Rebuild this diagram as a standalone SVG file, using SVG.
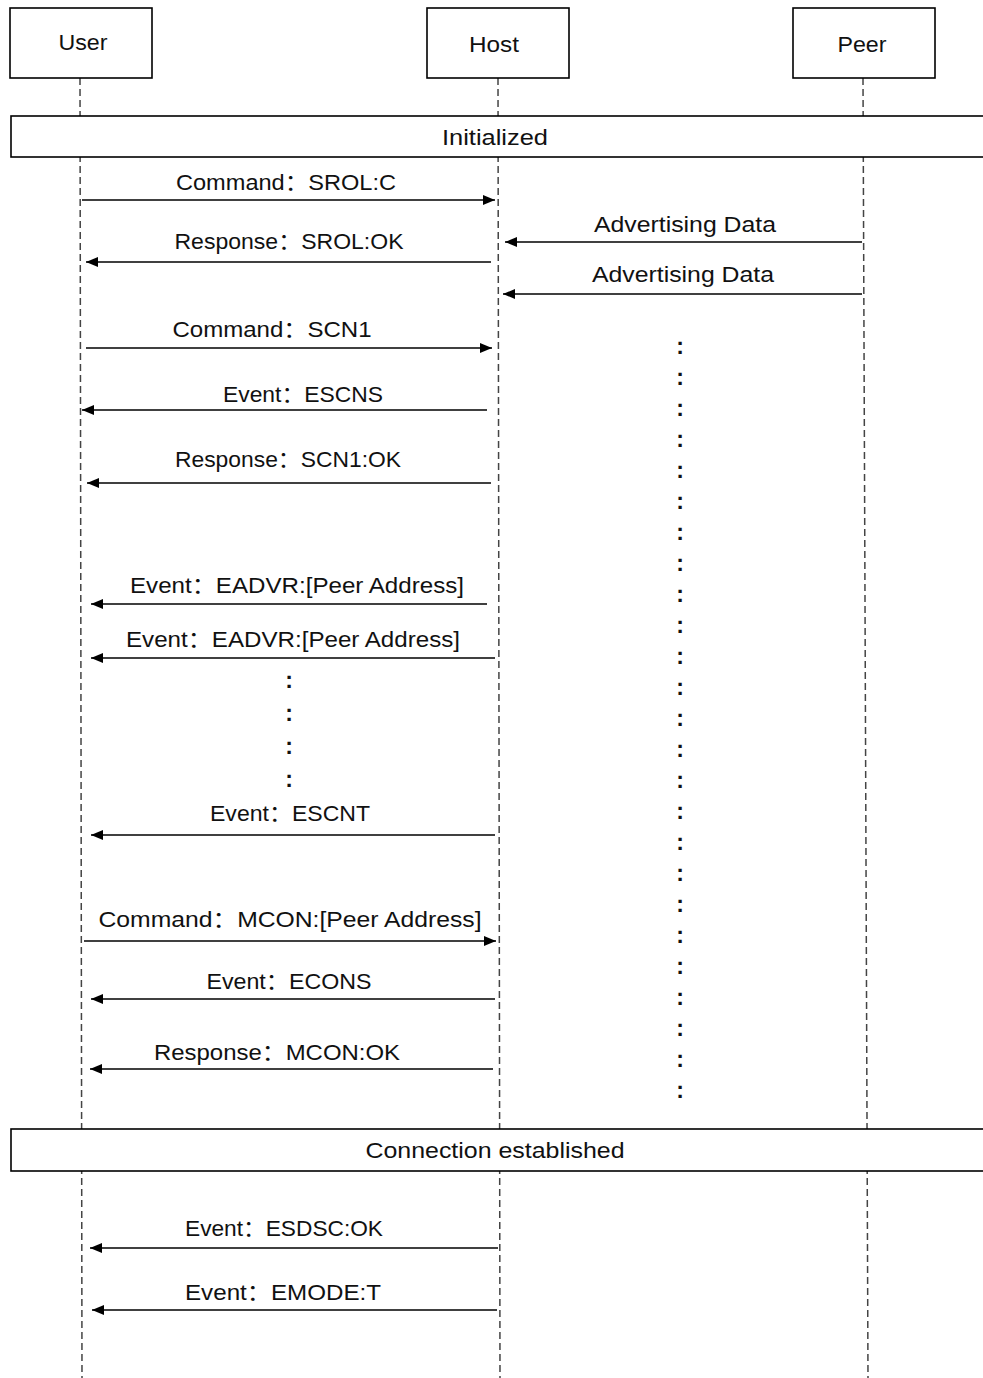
<svg xmlns="http://www.w3.org/2000/svg" width="983" height="1378" viewBox="0 0 983 1378">
<style>
.box{fill:#fff;stroke:#000;stroke-width:1.6}
.life{stroke:#444;stroke-width:1.5;stroke-dasharray:7 4;fill:none}
.msg{stroke:#000;stroke-width:1.6;fill:none}
text{font-family:"Liberation Sans","Noto Sans CJK SC",sans-serif;font-size:22px;fill:#111;text-anchor:middle}
.dots{font-size:23px;font-weight:bold}
</style>
<defs>
<marker id="ah" viewBox="0 0 12 10" refX="12" refY="5" markerWidth="12" markerHeight="10" markerUnits="userSpaceOnUse" orient="auto">
<path d="M0,0 L12,5 L0,10 z" fill="#000"/>
</marker>
</defs>
<rect width="983" height="1378" fill="#fff"/>
<g id="lifelines">
<line class="life" x1="80" y1="78" x2="82" y2="1378"/>
<line class="life" x1="498" y1="78" x2="500" y2="1378"/>
<line class="life" x1="863" y1="78" x2="868" y2="1378"/>
</g>
<g id="user"><rect class="box" x="10" y="8" width="142" height="70"/><text x="83" y="50" textLength="49" lengthAdjust="spacingAndGlyphs">User</text></g>
<g id="host"><rect class="box" x="427" y="8" width="142" height="70"/><text x="494" y="52" textLength="50" lengthAdjust="spacingAndGlyphs">Host</text></g>
<g id="peer"><rect class="box" x="793" y="8" width="142" height="70"/><text x="862" y="52" textLength="49" lengthAdjust="spacingAndGlyphs">Peer</text></g>
<g id="state-initialized"><rect class="box" x="11" y="116" width="985" height="41"/><text x="495" y="145" textLength="106" lengthAdjust="spacingAndGlyphs">Initialized</text></g>
<g id="state-connected"><rect class="box" x="11" y="1129" width="985" height="42"/><text x="495" y="1158" textLength="259" lengthAdjust="spacingAndGlyphs">Connection established</text></g>
<g id="connectors">
<line class="msg" x1="82" y1="200" x2="495" y2="200" marker-end="url(#ah)"/>
<line class="msg" x1="491" y1="262" x2="86" y2="262" marker-end="url(#ah)"/>
<line class="msg" x1="862" y1="242" x2="505" y2="242" marker-end="url(#ah)"/>
<line class="msg" x1="862" y1="294" x2="503" y2="294" marker-end="url(#ah)"/>
<line class="msg" x1="86" y1="348" x2="492" y2="348" marker-end="url(#ah)"/>
<line class="msg" x1="487" y1="410" x2="82" y2="410" marker-end="url(#ah)"/>
<line class="msg" x1="491" y1="483" x2="87" y2="483" marker-end="url(#ah)"/>
<line class="msg" x1="487" y1="604" x2="91" y2="604" marker-end="url(#ah)"/>
<line class="msg" x1="495" y1="658" x2="91" y2="658" marker-end="url(#ah)"/>
<line class="msg" x1="495" y1="835" x2="91" y2="835" marker-end="url(#ah)"/>
<line class="msg" x1="84" y1="941" x2="496" y2="941" marker-end="url(#ah)"/>
<line class="msg" x1="495" y1="999" x2="91" y2="999" marker-end="url(#ah)"/>
<line class="msg" x1="493" y1="1069" x2="90" y2="1069" marker-end="url(#ah)"/>
<line class="msg" x1="498" y1="1248" x2="90" y2="1248" marker-end="url(#ah)"/>
<line class="msg" x1="497" y1="1310" x2="92" y2="1310" marker-end="url(#ah)"/>
</g>
<g id="labels">
<text x="286" y="190" textLength="220" lengthAdjust="spacingAndGlyphs">Command：SROL:C</text>
<text x="289" y="249" textLength="229" lengthAdjust="spacingAndGlyphs">Response：SROL:OK</text>
<text x="685" y="232" textLength="182" lengthAdjust="spacingAndGlyphs">Advertising Data</text>
<text x="683" y="282" textLength="182" lengthAdjust="spacingAndGlyphs">Advertising Data</text>
<text x="272" y="337" textLength="199" lengthAdjust="spacingAndGlyphs">Command：SCN1</text>
<text x="303" y="402" textLength="160" lengthAdjust="spacingAndGlyphs">Event：ESCNS</text>
<text x="288" y="467" textLength="226" lengthAdjust="spacingAndGlyphs">Response：SCN1:OK</text>
<text x="297" y="593" textLength="334" lengthAdjust="spacingAndGlyphs">Event：EADVR:[Peer Address]</text>
<text x="293" y="647" textLength="334" lengthAdjust="spacingAndGlyphs">Event：EADVR:[Peer Address]</text>
<text x="290" y="821" textLength="160" lengthAdjust="spacingAndGlyphs">Event：ESCNT</text>
<text x="290" y="927" textLength="383" lengthAdjust="spacingAndGlyphs">Command：MCON:[Peer Address]</text>
<text x="289" y="989" textLength="165" lengthAdjust="spacingAndGlyphs">Event：ECONS</text>
<text x="277" y="1060" textLength="246" lengthAdjust="spacingAndGlyphs">Response：MCON:OK</text>
<text x="284" y="1236" textLength="198" lengthAdjust="spacingAndGlyphs">Event：ESDSC:OK</text>
<text x="283" y="1300" textLength="196" lengthAdjust="spacingAndGlyphs">Event：EMODE:T</text>
</g>
<g id="ellipsis-left">
<text class="dots" x="289" y="688">:</text>
<text class="dots" x="289" y="721">:</text>
<text class="dots" x="289" y="754">:</text>
<text class="dots" x="289" y="787">:</text>
</g>
<g id="ellipsis-right">
<text class="dots" x="680" y="354">:</text>
<text class="dots" x="680" y="385">:</text>
<text class="dots" x="680" y="416">:</text>
<text class="dots" x="680" y="447">:</text>
<text class="dots" x="680" y="478">:</text>
<text class="dots" x="680" y="509">:</text>
<text class="dots" x="680" y="540">:</text>
<text class="dots" x="680" y="571">:</text>
<text class="dots" x="680" y="602">:</text>
<text class="dots" x="680" y="633">:</text>
<text class="dots" x="680" y="664">:</text>
<text class="dots" x="680" y="695">:</text>
<text class="dots" x="680" y="726">:</text>
<text class="dots" x="680" y="757">:</text>
<text class="dots" x="680" y="788">:</text>
<text class="dots" x="680" y="819">:</text>
<text class="dots" x="680" y="850">:</text>
<text class="dots" x="680" y="881">:</text>
<text class="dots" x="680" y="912">:</text>
<text class="dots" x="680" y="943">:</text>
<text class="dots" x="680" y="974">:</text>
<text class="dots" x="680" y="1005">:</text>
<text class="dots" x="680" y="1036">:</text>
<text class="dots" x="680" y="1067">:</text>
<text class="dots" x="680" y="1098">:</text>
</g>
</svg>
